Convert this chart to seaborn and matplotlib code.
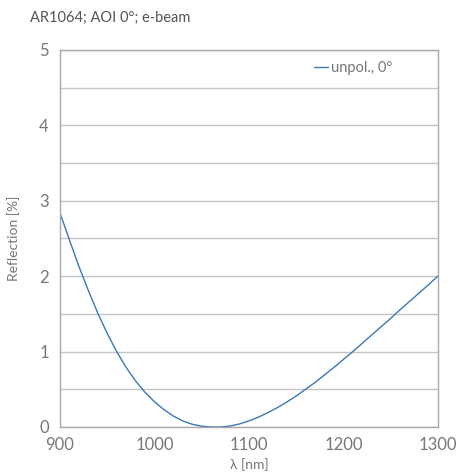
import numpy as np
import pandas as pd
import matplotlib.pyplot as plt
import seaborn as sns

# Reflexionskurve AR1064
wavelength = [900, 910, 920, 930, 940, 950, 960, 970, 980, 990, 1000, 1010, 1020,
              1030, 1040, 1050, 1060, 1070, 1080, 1090, 1100, 1110, 1120, 1130,
              1140, 1150, 1160, 1170, 1180, 1190, 1200, 1210, 1220, 1230, 1240,
              1250, 1260, 1270, 1280, 1290, 1300]
reflection = [2.84, 2.48, 2.13, 1.81, 1.51, 1.24, 1.00, 0.79, 0.61, 0.46, 0.335,
              0.23, 0.145, 0.08, 0.036, 0.01, 0.0, 0.0, 0.012, 0.04, 0.08, 0.13,
              0.19, 0.255, 0.33, 0.41, 0.50, 0.59, 0.69, 0.79, 0.895, 1.00, 1.11,
              1.22, 1.33, 1.44, 1.555, 1.665, 1.775, 1.885, 2.0]
series_label = "unpol., 0°"

data = pd.DataFrame({"wl": wavelength, "R": reflection, "s": series_label})

sns.set_style("white")
plt.rcParams["font.family"] = ["Lato", "DejaVu Sans"]
grey = "#777777"

fig = plt.figure(figsize=(4.58, 4.76), dpi=100)
ax = fig.add_axes([0.131, 0.103, 0.825, 0.792])

sns.lineplot(data=data, x="wl", y="R", hue="s", palette=["#3a78b5"],
             linewidth=1.0, ax=ax)

ax.set_xlim(900, 1300)
ax.set_ylim(0, 5)
ax.set_xticks([900, 1000, 1100, 1200, 1300])
ax.set_yticks([0, 1, 2, 3, 4, 5])
ax.set_yticks(np.arange(0, 5.01, 0.5), minor=True)
ax.grid(True, which="both", axis="y", color="#c4c4c4", linewidth=1.0)
ax.set_axisbelow(True)
for sp in ax.spines.values():
    sp.set_color("#a8a8a8")
    sp.set_linewidth(1.0)
ax.tick_params(which="both", length=0, labelsize=12, colors=grey)
ax.tick_params(axis="x", pad=7)
ax.tick_params(axis="y", pad=8)

ax.set_xlabel("λ [nm]", fontsize=10, color=grey, labelpad=4)
ax.set_ylabel("Reflection [%]", fontsize=10, color=grey, labelpad=14)

leg = ax.legend(loc="upper right", frameon=False, fontsize=10.5, handlelength=1.0,
                handletextpad=0.2, bbox_to_anchor=(0.915, 1.005))
for t in leg.get_texts():
    t.set_color(grey)

fig.text(0.066, 0.963, "AR1064; AOI 0°; e-beam", fontsize=10.5, color="#555555",
         ha="left", va="center")

fig.savefig("out.png", dpi=100)
